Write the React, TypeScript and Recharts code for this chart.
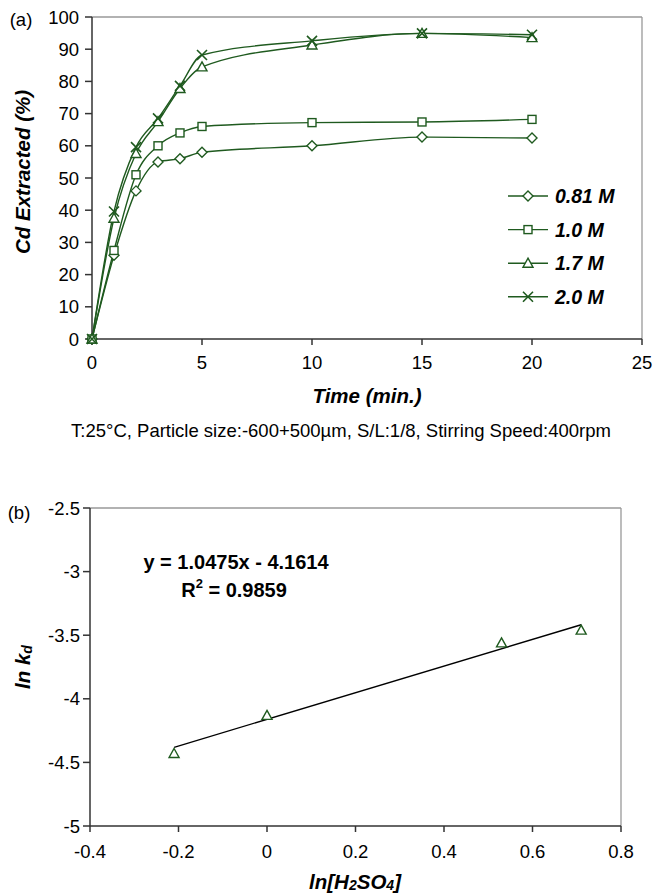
import React from "react";
import {
  LineChart,
  Line,
  XAxis,
  YAxis,
  ReferenceLine,
  Legend,
  ScatterChart,
  Scatter,
} from "recharts";

const FONT = "'Liberation Sans', Arial, sans-serif";
const GREEN = "#1f5a1f";
const AXIS = "#333";
const FRAME = "#999";

// (a) Cd extraction vs time, per acid concentration
const times = [0, 1, 2, 3, 4, 5, 10, 15, 20];
const m081 = [0, 26, 46, 55, 56, 58, 60, 62.7, 62.4];
const m10 = [0, 27.5, 51, 60, 64, 66, 67.2, 67.4, 68.2];
const m17 = [0, 37.5, 57.6, 67.5, 77.8, 84.5, 91.3, 94.9, 93.6];
const m20 = [0, 39.6, 59.6, 68.5, 78.6, 88.2, 92.6, 94.9, 94.5];
const seriesNames = ["0.81 M", "1.0 M", "1.7 M", "2.0 M"];
const seriesKeys = ["m081", "m10", "m17", "m20"];
const markerShapes = ["diamond", "square", "triangle", "cross"];
const timeTicks = [0, 5, 10, 15, 20, 25];
const pctTicks = [0, 10, 20, 30, 40, 50, 60, 70, 80, 90, 100];

// (b) ln kd vs ln[H2SO4]
const lnAcid = [-0.21, 0, 0.53, 0.71];
const lnKd = [-4.43, -4.13, -3.56, -3.46];
const slope = 1.0475;
const intercept = -4.1614;
const r2 = 0.9859;
const acidTicks = [-0.4, -0.2, 0, 0.2, 0.4, 0.6, 0.8];
const kdTicks = [-5, -4.5, -4, -3.5, -3, -2.5];

const TICK = 18.5;

function Marker({ shape, cx, cy }: any) {
  if (cx == null || cy == null) return null;
  const common = { fill: "#fff", stroke: GREEN, strokeWidth: 1.4 };
  if (shape === "diamond")
    return <path d={`M${cx},${cy - 5}L${cx + 5},${cy}L${cx},${cy + 5}L${cx - 5},${cy}Z`} {...common} />;
  if (shape === "square") return <rect x={cx - 4} y={cy - 4} width={8} height={8} {...common} />;
  if (shape === "triangle")
    return <path d={`M${cx},${cy - 5}L${cx + 5},${cy + 4}L${cx - 5},${cy + 4}Z`} {...common} />;
  return (
    <path
      d={`M${cx - 5},${cy - 5}L${cx + 5},${cy + 5}M${cx + 5},${cy - 5}L${cx - 5},${cy + 5}`}
      fill="none"
      stroke={GREEN}
      strokeWidth={1.6}
    />
  );
}

function T({ x, y, anchor = "middle", size = TICK, bold = false, italic = false, rotate = 0, children }: any) {
  return (
    <text
      transform={`translate(${x},${y})${rotate ? ` rotate(${rotate})` : ""}`}
      textAnchor={anchor}
      dominantBaseline="central"
      fontFamily={FONT}
      fontSize={size}
      fontWeight={bold ? "bold" : "normal"}
      fontStyle={italic ? "italic" : "normal"}
      fill="#000"
    >
      {children}
    </text>
  );
}

const XTick = ({ x, y, payload }: any) => (
  <T x={x} y={y + TICK / 2}>
    {payload.value}
  </T>
);
const YTick = ({ x, y, payload }: any) => (
  <T x={x} y={y} anchor="end">
    {payload.value}
  </T>
);

const renderLegend = ({ payload }: any) => (
  <svg width={140} height={140} style={{ overflow: "visible" }}>
    {(payload || []).map((e: any, i: number) => {
      const k = seriesKeys.indexOf(e.dataKey);
      return (
        <g key={e.dataKey} transform={`translate(0, ${10 + i * 33.6})`}>
          <line x1={0} x2={40} y1={0} y2={0} stroke={GREEN} strokeWidth={1.4} />
          <Marker shape={markerShapes[k]} cx={20} cy={0} />
          <T x={47} y={0} anchor="start" size={19.5} bold italic>
            {e.value}
          </T>
        </g>
      );
    })}
  </svg>
);

export default function App() {
  const timeData = times.map((t, i) => ({
    t,
    m081: m081[i],
    m10: m10[i],
    m17: m17[i],
    m20: m20[i],
  }));
  const points = lnAcid.map((x, i) => ({ x, y: lnKd[i] }));
  const xMin = Math.min(...lnAcid);
  const xMax = Math.max(...lnAcid);
  const trend = [
    { x: xMin, y: slope * xMin + intercept },
    { x: xMax, y: slope * xMax + intercept },
  ];

  return (
    <div style={{ position: "absolute", left: 0, top: 0, width: 654, height: 896, background: "#fff" }}>
      <div style={{ position: "absolute", left: 0, top: 0 }}>
        <LineChart width={654} height={380} data={timeData} margin={{ top: 17, right: 12, left: 0, bottom: 20 }}>
          <XAxis
            dataKey="t"
            type="number"
            domain={[0, 25]}
            ticks={timeTicks}
            height={21}
            stroke={AXIS}
            strokeWidth={1.5}
            tickSize={6}
            tickMargin={8}
            tick={<XTick />}
          />
          <YAxis
            type="number"
            domain={[0, 100]}
            ticks={pctTicks}
            width={92}
            stroke={AXIS}
            strokeWidth={1.5}
            tickSize={7}
            tickMargin={6}
            tick={<YTick />}
          />
          <ReferenceLine y={100} stroke={FRAME} strokeWidth={1.3} />
          <ReferenceLine x={25} stroke={FRAME} strokeWidth={1.3} />
          <Legend
            layout="vertical"
            align="center"
            verticalAlign="middle"
            content={renderLegend}
            wrapperStyle={{ left: 508, top: 186, width: 140 }}
          />
          {seriesKeys.map((k, i) => (
            <Line
              key={k}
              dataKey={k}
              name={seriesNames[i]}
              type="monotone"
              stroke={GREEN}
              strokeWidth={1.4}
              dot={(p: any) => <Marker key={`${k}-${p.index}`} shape={markerShapes[i]} cx={p.cx} cy={p.cy} />}
              activeDot={false}
              isAnimationActive={false}
            />
          ))}
        </LineChart>
      </div>

      <div style={{ position: "absolute", left: 0, top: 460 }}>
        <ScatterChart width={654} height={436} margin={{ top: 48, right: 33, left: 0, bottom: 0 }}>
          <XAxis
            dataKey="x"
            type="number"
            domain={[-0.4, 0.8]}
            ticks={acidTicks}
            height={70}
            stroke={AXIS}
            strokeWidth={1.5}
            tickSize={6}
            tickMargin={10}
            tick={<XTick />}
          />
          <YAxis
            dataKey="y"
            type="number"
            domain={[-5, -2.5]}
            ticks={kdTicks}
            width={90}
            stroke={AXIS}
            strokeWidth={1.5}
            tickSize={7}
            tickMargin={3}
            tick={<YTick />}
          />
          <ReferenceLine y={-2.5} stroke={FRAME} strokeWidth={1.3} />
          <ReferenceLine x={0.8} stroke={FRAME} strokeWidth={1.3} />
          <Scatter
            data={trend}
            line={{ stroke: "#000", strokeWidth: 1.4 }}
            shape={() => <g />}
            isAnimationActive={false}
          />
          <Scatter
            data={points}
            shape={(p: any) => <Marker shape="triangle" cx={p.cx} cy={p.cy} />}
            isAnimationActive={false}
          />
        </ScatterChart>
      </div>

      <svg
        width={654}
        height={896}
        style={{ position: "absolute", left: 0, top: 0, pointerEvents: "none" }}
      >
        <T x={21} y={19}>(a)</T>
        <T x={22} y={172} size={20.5} bold italic rotate={-90}>
          Cd Extracted (%)
        </T>
        <T x={367} y={395} size={20.5} bold italic>
          Time (min.)
        </T>
        <T x={341} y={430}>
          T:25°C, Particle size:-600+500µm, S/L:1/8, Stirring Speed:400rpm
        </T>

        <T x={19} y={512}>(b)</T>
        <T x={236} y={562} size={20} bold>
          {`y = ${slope}x - ${Math.abs(intercept)}`}
        </T>
        <T x={234} y={590} size={20} bold>
          R<tspan dy={-7} fontSize={13}>2</tspan>
          <tspan dy={7}>{` = ${r2}`}</tspan>
        </T>
        <T x={22} y={667} size={20.5} bold italic rotate={-90}>
          ln k<tspan dy={5} fontSize={14}>d</tspan>
        </T>
        <T x={355} y={881} size={20.5} bold italic>
          ln[H<tspan dy={4} fontSize={14}>2</tspan>
          <tspan dy={-4}>SO</tspan>
          <tspan dy={4} fontSize={14}>4</tspan>
          <tspan dy={-4}>]</tspan>
        </T>
      </svg>
    </div>
  );
}
